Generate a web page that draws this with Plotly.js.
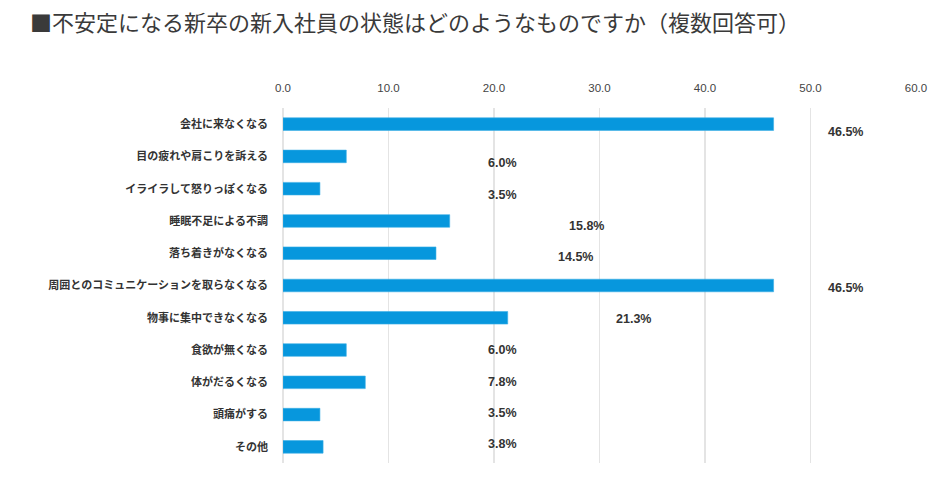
<!DOCTYPE html>
<html>
<head>
<meta charset="utf-8">
<script src="https://cdn.plot.ly/plotly-3.0.1.min.js"></script>
<style>html,body{margin:0;padding:0;background:#fff;}#chart{width:947px;height:497px;}</style>
</head>
<body>
<div id="chart"></div>
<script>
const titleText = "■不安定になる新卒の新入社員の状態はどのようなものですか（複数回答可）";
const categories = [
  "会社に来なくなる",
  "目の疲れや肩こりを訴える",
  "イライラして怒りっぽくなる",
  "睡眠不足による不調",
  "落ち着きがなくなる",
  "周囲とのコミュニケーションを取らなくなる",
  "物事に集中できなくなる",
  "食欲が無くなる",
  "体がだるくなる",
  "頭痛がする",
  "その他"
];
const values = [46.5, 6.0, 3.5, 15.8, 14.5, 46.5, 21.3, 6.0, 7.8, 3.5, 3.8];
const tickVals = [0, 10, 20, 30, 40, 50, 60];
const tickText = ["0.0", "10.0", "20.0", "30.0", "40.0", "50.0", "60.0"];

// Label placement rule (as in the reference, labels float to the right of bars)
function labelX(v) { return v < 10 ? 19.2 : 0.8 * v + 14.3; }
function labelShift(i) { return -(2.6 - 1.1 * (i - 5)); }

const trace = {
  type: "bar",
  orientation: "h",
  x: values,
  y: categories,
  width: 0.39,
  marker: { color: "#0797dd", line: { color: "#3aaee6", width: 0.6 } },
  hoverinfo: "skip"
};

const annotations = values.map((v, i) => ({
  x: labelX(v),
  y: categories[i],
  xref: "x",
  yref: "y",
  text: v.toFixed(1) + "%",
  showarrow: false,
  xanchor: "left",
  yanchor: "middle",
  yshift: labelShift(i),
  font: { family: "Liberation Sans, Arial, sans-serif", size: 12.5, color: "#333", weight: "bold" }
}));

const layout = {
  width: 947,
  height: 497,
  paper_bgcolor: "#fff",
  plot_bgcolor: "#fff",
  margin: { l: 283, r: 31, t: 108, b: 34 },
  showlegend: false,
  title: {
    text: titleText,
    xref: "container",
    yref: "container",
    x: 30 / 947,
    y: 1 - 23 / 497,
    xanchor: "left",
    yanchor: "middle",
    font: { family: "Noto Sans CJK JP, sans-serif", size: 22, color: "#3a3a3a", weight: "normal" }
  },
  xaxis: {
    side: "top",
    range: [0, 60],
    tickvals: tickVals,
    ticktext: tickText,
    showgrid: true,
    gridcolor: "#e4e4e4",
    gridwidth: 1.5,
    zeroline: true,
    zerolinecolor: "#e4e4e4",
    zerolinewidth: 1.5,
    showline: false,
    ticks: "",
    ticklabelstandoff: 13,
    tickfont: { family: "Liberation Sans, Arial, sans-serif", size: 11.5, color: "#444" },
    fixedrange: true
  },
  yaxis: {
    type: "category",
    range: [10.5, -0.5],
    showgrid: false,
    zeroline: false,
    showline: false,
    ticks: "",
    ticklabelstandoff: 14,
    tickfont: { family: "Noto Sans CJK JP, sans-serif", size: 11, color: "#333", weight: "bold" },
    fixedrange: true
  },
  annotations: annotations
};

Plotly.newPlot("chart", [trace], layout, { staticPlot: true, displayModeBar: false });
</script>
</body>
</html>
